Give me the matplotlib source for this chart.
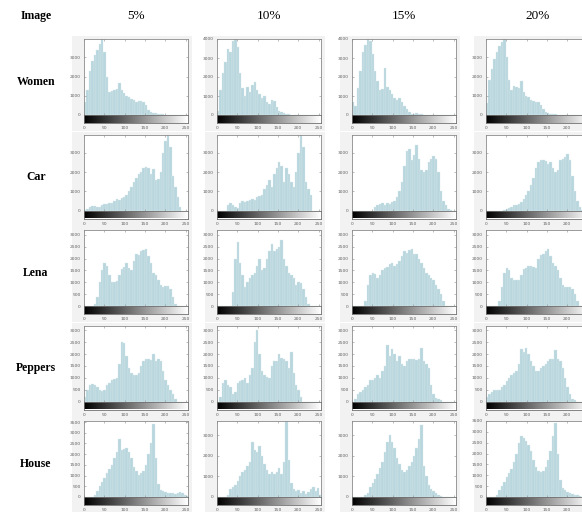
import numpy as np
import matplotlib
matplotlib.use("Agg")
import matplotlib.pyplot as plt
from matplotlib.patches import Rectangle

# histogram bins: width 6 gray levels, starting at 0, 6, ..., 252
bin_width = 6
bin_starts = list(range(0, 256, bin_width))

images = ["Women", "Car", "Lena", "Peppers", "House"]
levels = ["5%", "10%", "15%", "20%"]

women_5 = [700, 1300, 2300, 2800, 3100, 3400, 3700, 3950, 3300, 2000,
           1200, 1250, 1300, 1350, 1650, 1300, 1150, 1000, 950, 850,
           800, 700, 750, 750, 700, 500, 250, 150, 100, 80,
           60, 40, 30, 25, 20, 15, 10, 10, 5, 0,
           0, 0, 0]
women_10 = [200, 1300, 2200, 2800, 3500, 3300, 3900, 4000, 3600, 2200,
            1400, 1000, 1500, 1200, 1600, 1750, 1300, 1100, 900, 1000,
            700, 600, 800, 750, 400, 200, 150, 100, 60, 40,
            20, 20, 10, 10, 0, 0, 0, 0, 0, 0,
            0, 0, 0]
women_15 = [700, 500, 1400, 2300, 3300, 3700, 4000, 3900, 3200, 2300,
            1800, 1300, 1350, 2500, 1500, 1300, 1100, 900, 800, 900,
            700, 500, 300, 150, 60, 40, 80, 60, 30, 20,
            10, 10, 0, 0, 0, 0, 0, 0, 0, 0,
            0, 0, 0]
women_20 = [600, 1800, 2400, 2900, 3300, 3600, 3800, 3950, 3000, 1800,
            1300, 1500, 1450, 1400, 1750, 1200, 1000, 950, 800, 750,
            700, 700, 500, 300, 150, 100, 60, 40, 30, 20,
            10, 10, 0, 0, 0, 0, 0, 0, 0, 0,
            0, 0, 0]

car_5 = [50, 100, 200, 250, 250, 200, 200, 300, 350, 350,
         400, 400, 500, 600, 550, 650, 700, 800, 1000, 1200,
         1500, 1700, 1900, 2000, 2200, 2250, 2200, 1900, 2150, 1600,
         1650, 2000, 3000, 3600, 3900, 3300, 1800, 1200, 700, 200,
         0, 0, 0]
car_10 = [0, 0, 0, 0, 300, 400, 300, 200, 150, 400,
          500, 450, 500, 550, 600, 550, 700, 750, 800, 1100,
          1300, 1600, 1200, 1900, 2200, 2500, 2300, 1500, 2200, 1900,
          1500, 1200, 2000, 3000, 3900, 3300, 1500, 1100, 800, 0,
          0, 0, 0]
car_15 = [0, 0, 0, 0, 0, 0, 0, 0, 0, 200,
          300, 350, 400, 300, 400, 350, 450, 500, 700, 1000,
          1500, 2300, 3100, 3200, 2600, 2900, 3400, 2700, 2100, 2000,
          2100, 2500, 2700, 2850, 2700, 2000, 1000, 500, 300, 100,
          50, 0, 0]
car_20 = [0, 0, 0, 0, 0, 0, 0, 50, 100, 150,
          200, 300, 300, 350, 450, 600, 800, 1000, 1300, 1700,
          2200, 2500, 2600, 2600, 2550, 2400, 2500, 2200, 2000, 2100,
          2600, 2700, 2800, 2950, 2600, 1800, 1000, 500, 200, 50,
          0, 0, 0]

lena_5 = [0, 0, 0, 0, 100, 400, 1000, 1500, 1800, 1700,
          1300, 1000, 1000, 1050, 1300, 1550, 1650, 1800, 1600, 1500,
          1900, 2200, 2150, 2300, 2350, 2400, 2100, 1800, 1400, 1300,
          1100, 900, 800, 850, 850, 700, 400, 100, 0, 0,
          0, 0, 0]
lena_10 = [0, 0, 0, 0, 0, 0, 600, 2000, 2700, 1800,
           1300, 800, 1000, 1200, 1300, 1400, 1700, 2000, 1500, 1600,
           2000, 2300, 2600, 2300, 2400, 2500, 2800, 2000, 1700, 1400,
           1300, 1200, 900, 1000, 950, 700, 400, 100, 0, 0,
           0, 0, 0]
lena_15 = [0, 0, 0, 0, 0, 200, 900, 1300, 1400, 1350,
           1200, 1300, 1500, 1600, 1650, 1750, 1800, 1700, 1750, 1900,
           2100, 2300, 2250, 2350, 2400, 2200, 2200, 2000, 1800, 1600,
           1400, 1300, 1200, 1100, 900, 700, 500, 200, 0, 0,
           0, 0, 0]
lena_20 = [0, 0, 0, 0, 0, 200, 800, 1400, 1600, 1500,
           1200, 1100, 1100, 1100, 1300, 1550, 1600, 1700, 1700, 1650,
           1600, 2000, 2150, 2200, 2300, 2400, 2100, 1800, 1700, 1500,
           1200, 900, 800, 800, 800, 700, 500, 200, 0, 0,
           0, 0, 0]

peppers_5 = [200, 500, 700, 750, 700, 600, 500, 450, 500, 700,
             800, 900, 950, 1000, 1600, 2500, 2450, 1900, 1400, 1200,
             1100, 1100, 1200, 1500, 1700, 1800, 1800, 1750, 2000, 1700,
             1800, 1700, 1300, 900, 700, 500, 300, 100, 0, 0,
             0, 0, 0]
peppers_10 = [0, 200, 800, 900, 700, 600, 300, 400, 800, 850,
              900, 1000, 800, 1100, 1400, 2500, 3000, 2000, 1300, 1100,
              1050, 1000, 1500, 1700, 1700, 2000, 1850, 1800, 1700, 1400,
              2100, 1200, 700, 500, 200, 0, 0, 0, 0, 0,
              0, 0, 0]
peppers_15 = [0, 100, 300, 400, 500, 600, 700, 900, 900, 1000,
              1100, 1000, 1300, 1500, 2400, 1900, 2200, 2000, 1700, 1900,
              1600, 1500, 1700, 1800, 1800, 1800, 1750, 1800, 2250, 1700,
              1600, 1400, 700, 300, 150, 100, 50, 0, 0, 0,
              0, 0, 0]
peppers_20 = [200, 300, 400, 500, 500, 500, 600, 700, 850, 1000,
              1100, 1200, 1300, 1600, 2200, 2100, 2250, 2000, 1700, 1500,
              1300, 1300, 1400, 1500, 1600, 1700, 1800, 1800, 2150, 1800,
              1700, 1400, 1000, 600, 300, 100, 50, 0, 0, 0,
              0, 0, 0]

house_5 = [0, 0, 0, 0, 100, 300, 500, 700, 900, 1100,
           1300, 1500, 1800, 2100, 2700, 2200, 2250, 2300, 2100, 1800,
           1400, 1200, 1050, 1100, 1200, 1500, 2000, 2500, 3400, 1800,
           600, 350, 300, 250, 200, 200, 200, 150, 200, 250,
           200, 100, 50]
house_10 = [0, 0, 0, 0, 100, 400, 500, 600, 800, 1000,
            1200, 1300, 1500, 1700, 2700, 2300, 2200, 2500, 2000, 1600,
            1300, 1100, 1200, 1100, 1200, 1400, 1100, 1700, 3700, 1800,
            700, 400, 300, 350, 200, 300, 150, 250, 400, 500,
            300, 450, 100]
house_15 = [0, 0, 0, 0, 0, 100, 200, 500, 700, 900,
            1100, 1400, 1700, 2200, 2700, 3000, 2700, 2400, 1900, 1600,
            1300, 1200, 1300, 1500, 1700, 2000, 2400, 2800, 3500, 1500,
            1000, 600, 400, 300, 200, 100, 50, 0, 0, 0,
            0, 0, 0]
house_20 = [0, 0, 0, 0, 100, 300, 500, 700, 900, 1100,
            1300, 1600, 2000, 2500, 2800, 2700, 2600, 2400, 2100, 1700,
            1400, 1200, 1150, 1200, 1400, 1700, 2100, 2800, 3400, 2000,
            800, 400, 300, 250, 200, 150, 100, 80, 50, 0,
            0, 0, 0]

# y-axis top and tick step of each panel
ylim_top = [[3950, 4000, 4000, 3950],
            [3950, 3950, 3950, 3950],
            [3200, 3200, 3200, 3200],
            [3200, 3200, 3200, 3200],
            [3550, 3700, 3700, 3500]]
ytick_step = [[1000, 1000, 1000, 1000],
              [1000, 1000, 1000, 1000],
              [500, 500, 500, 500],
              [500, 500, 500, 500],
              [500, 1000, 1000, 500]]
xticks = [0, 50, 100, 150, 200, 250]

table = [[women_5, women_10, women_15, women_20],
         [car_5, car_10, car_15, car_20],
         [lena_5, lena_10, lena_15, lena_20],
         [peppers_5, peppers_10, peppers_15, peppers_20],
         [house_5, house_10, house_15, house_20]]

W, H = 582, 512
fig = plt.figure(figsize=(W / 100, H / 100), dpi=100)
fig.patch.set_facecolor("white")


def px_rect(left, top, w, h):
    return [left / W, 1 - (top + h) / H, w / W, h / H]


serif = ["Liberation Serif", "DejaVu Serif"]
bar_color = "#b7d6dd"
frame_color = "#8a8a8a"
tick_color = "#606060"

col_left = [84, 217, 352, 486]
row_top = [39, 134.5, 230, 325.5, 421]
ax_w = 104
hist_h = 76
cbar_h = 8

# light gray panel behind each MATLAB figure
bg = fig.add_axes([0, 0, 1, 1], zorder=-10)
bg.set_xlim(0, W)
bg.set_ylim(H, 0)
bg.axis("off")
for r in range(len(images)):
    for c in range(len(levels)):
        bg.add_patch(Rectangle((col_left[c] - 12, row_top[r] - 3), 120, 95,
                               facecolor="#f2f2f2", edgecolor="none"))

fig.text(36 / W, 1 - 16 / H, "Image", family=serif, weight="bold",
         fontsize=8.5, ha="center", va="center")
for c, lab in enumerate(levels):
    fig.text((col_left[c] + 52) / W, 1 - 16 / H, lab, family=serif,
             fontsize=9.5, ha="center", va="center")

for r, name in enumerate(images):
    fig.text(36 / W, 1 - (row_top[r] + 43) / H, name, family=serif,
             weight="bold", fontsize=8.5, ha="center", va="center")
    for c in range(len(levels)):
        counts = table[r][c]
        assert len(counts) == len(bin_starts)
        ax = fig.add_axes(px_rect(col_left[c], row_top[r], ax_w, hist_h))
        ax.bar(bin_starts, counts, width=bin_width, align="edge",
               color=bar_color, edgecolor="#dcebee", linewidth=0.25)
        ax.set_xlim(0, 256)
        ax.set_ylim(0, ylim_top[r][c])
        ax.set_yticks(np.arange(0, ylim_top[r][c] + 1, ytick_step[r][c]))
        ax.set_xticks(xticks)
        ax.tick_params(axis="x", direction="in", length=1.5, width=0.4,
                       color=frame_color, labelbottom=False, top=True)
        ax.tick_params(axis="y", direction="in", length=1.5, width=0.4,
                       color=frame_color, labelsize=3.2, labelcolor=tick_color,
                       pad=2.5, right=True)
        for s in ax.spines.values():
            s.set_color(frame_color)
            s.set_linewidth(0.6)

        cax = fig.add_axes(px_rect(col_left[c], row_top[r] + hist_h, ax_w, cbar_h))
        cax.imshow(np.linspace(0, 1, 256)[None, :], cmap="gray", aspect="auto",
                   extent=[0, 256, 0, 1])
        cax.set_xlim(0, 256)
        cax.set_yticks([])
        cax.set_xticks(xticks)
        # the last column runs past the page edge, so its 250 label is not shown
        if c == len(levels) - 1:
            cax.set_xticklabels([str(t) for t in xticks[:-1]] + [""])
        cax.tick_params(axis="x", length=0, labelsize=3.2,
                        labelcolor=tick_color, pad=2.5)
        for s in cax.spines.values():
            s.set_color("#707070")
            s.set_linewidth(0.6)

fig.savefig("out.png", dpi=100)
